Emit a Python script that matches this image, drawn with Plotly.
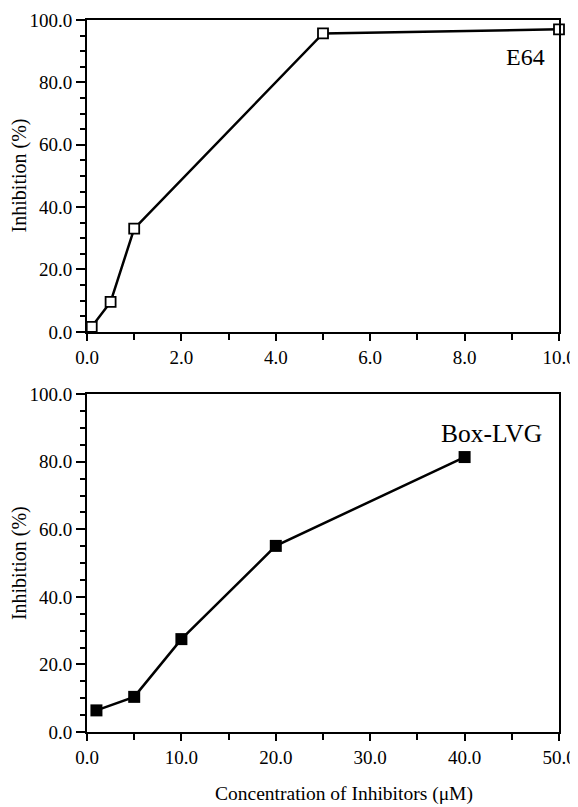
import plotly.graph_objects as go

# Data
e64_conc = [0.1, 0.5, 1.0, 5.0, 10.0]
e64_inhib = [1.6, 9.6, 33.1, 95.7, 97.0]
box_conc = [1.0, 5.0, 10.0, 20.0, 40.0]
box_inhib = [6.4, 10.4, 27.5, 55.1, 81.4]

FONT = "Liberation Serif, Times New Roman, serif"

fig = go.Figure()
fig.add_trace(go.Scatter(
    x=e64_conc, y=e64_inhib, mode="lines+markers", xaxis="x", yaxis="y",
    line=dict(color="black", width=2.5),
    marker=dict(symbol="square", size=10, color="white", line=dict(color="black", width=1.8)),
    showlegend=False, cliponaxis=False))
fig.add_trace(go.Scatter(
    x=box_conc, y=box_inhib, mode="lines+markers", xaxis="x2", yaxis="y2",
    line=dict(color="black", width=2.5),
    marker=dict(symbol="square", size=12, color="black", line=dict(color="black", width=0)),
    showlegend=False, cliponaxis=False))

common = dict(showline=True, linecolor="black", linewidth=2, mirror=True,
              ticks="outside", tickcolor="black", tickwidth=1.8,
              showgrid=False, zeroline=False, tickformat=".1f", automargin=False,
              tickfont=dict(family=FONT, size=19, color="black"))

minor_y = dict(ticks="outside", dtick=5, ticklen=5, tickcolor="black", tickwidth=1.8)

# page body has an 8px margin; figure is sized to fit the 578x807 window
fig.update_layout(
    width=570, height=799,
    margin=dict(l=79, r=19, t=11.5, b=75),
    paper_bgcolor="white", plot_bgcolor="white",
    font=dict(family=FONT, color="black"),
    xaxis=dict(domain=[0, 1], anchor="y", range=[0, 10], dtick=2, ticklen=7,
               minor=dict(ticks="outside", dtick=1, ticklen=6, tickcolor="black", tickwidth=1.8),
               **common),
    yaxis=dict(domain=[0.562, 1], anchor="x", range=[0, 100], dtick=20, ticklen=9,
               minor=minor_y, **common),
    xaxis2=dict(domain=[0, 1], anchor="y2", range=[0, 50], dtick=10, ticklen=7,
                minor=dict(ticks="outside", dtick=5, ticklen=6, tickcolor="black", tickwidth=1.8),
                **common),
    yaxis2=dict(domain=[0, 0.4744], anchor="x2", range=[0, 100], dtick=20, ticklen=9,
                minor=minor_y, **common),
)

annots = [
    dict(text="E64", x=(525.5 - 87) / 472, y=(732 - 57) / 712.5,
         font=dict(family=FONT, size=24, color="black")),
    dict(text="Box-LVG", x=(491.5 - 87) / 472, y=(732 - 433) / 712.5,
         font=dict(family=FONT, size=25.5, color="black")),
    dict(text="Inhibition (%)", x=(19 - 87) / 472, y=(732 - 175) / 712.5,
         textangle=-90, font=dict(family=FONT, size=20, color="black")),
    dict(text="Inhibition (%)", x=(19 - 87) / 472, y=(732 - 563) / 712.5,
         textangle=-90, font=dict(family=FONT, size=20, color="black")),
    dict(text="Concentration of Inhibitors (μM)",
         x=(344 - 87) / 472, y=-(794 - 732) / 712.5,
         font=dict(family=FONT, size=19.5, color="black")),
]
for a in annots:
    fig.add_annotation(xref="paper", yref="paper", showarrow=False,
                       xanchor="center", yanchor="middle", **a)

fig.write_html("out.html")
